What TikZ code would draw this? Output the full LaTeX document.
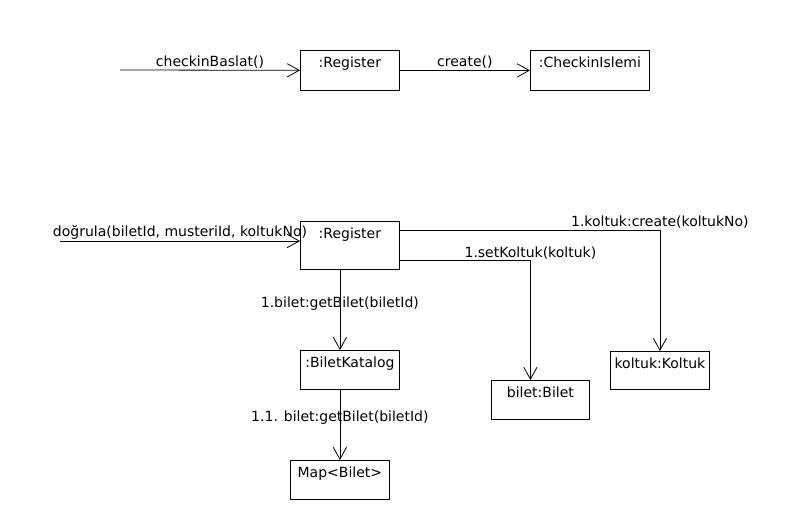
\documentclass[tikz,border=0pt]{standalone}
\usepackage{fontspec}
\setmainfont{DejaVu Sans}
\usetikzlibrary{arrows.meta}

\begin{document}
\begin{tikzpicture}[x=0.75pt,y=-0.75pt,line width=0.6pt]
\tikzstyle{every node}+=[font=\fontsize{10.5}{12}\selectfont]
\tikzstyle{obj}=[draw, anchor=north west, inner sep=0pt, minimum width=74.25pt, text height=12.75pt]
\tikzstyle{msg}=[-{Straight Barb[length=9pt,width=10pt]}]
\tikzstyle{lbl}=[inner sep=1pt]
\useasboundingbox (0,0) rectangle (796,520);
\node [obj, text depth=17.25pt] (reg1) at (300,50) {:Register};
\node [obj, text depth=17.25pt, minimum width=89.25pt] (islem) at (530,50) {:CheckinIslemi};
\coordinate (start1) at (120,70);
\draw [msg] (start1) -- node [lbl, above] {checkinBaslat()} (reg1);
\draw [msg] (reg1) -- node [lbl, above] {create()} (islem);
\node [obj, text depth=23.25pt] (reg2) at (300,221) {:Register};
\node [obj, text depth=16.5pt] (katalog) at (300,350) {:BiletKatalog};
\node [obj, text depth=16.5pt] (map) at (290,460) {Map<Bilet>};
\node [obj, text depth=16.5pt, minimum width=73.5pt] (bilet) at (491,380) {bilet:Bilet};
\node [obj, text depth=15.75pt] (koltuk) at (610,351) {koltuk:Koltuk};
\coordinate (start2) at (60,241);
\draw [msg] (start2) -- node [lbl, above] {doğrula(biletId, musteriId, koltukNo)} (start2 -| reg2.west);
\draw [msg] ([yshift=-6.75pt]reg2.north east) -| node [lbl, above, pos=0.5] {1.koltuk:create(koltukNo)} (koltuk);
\draw [msg] ([yshift=6.75pt]reg2.south east) -| node [lbl, above, pos=0.5] {1.setKoltuk(koltuk)} ([xshift=-7.5pt]bilet.north);
\draw [msg] (reg2.south -| map.north) -- node [lbl, pos=0.42] {1.bilet:getBilet(biletId)} (katalog.north -| map.north);
\draw [msg] (katalog.south -| map.north) -- node [lbl, pos=0.39] {1.1. bilet:getBilet(biletId)} (map);
\end{tikzpicture}
\end{document}
